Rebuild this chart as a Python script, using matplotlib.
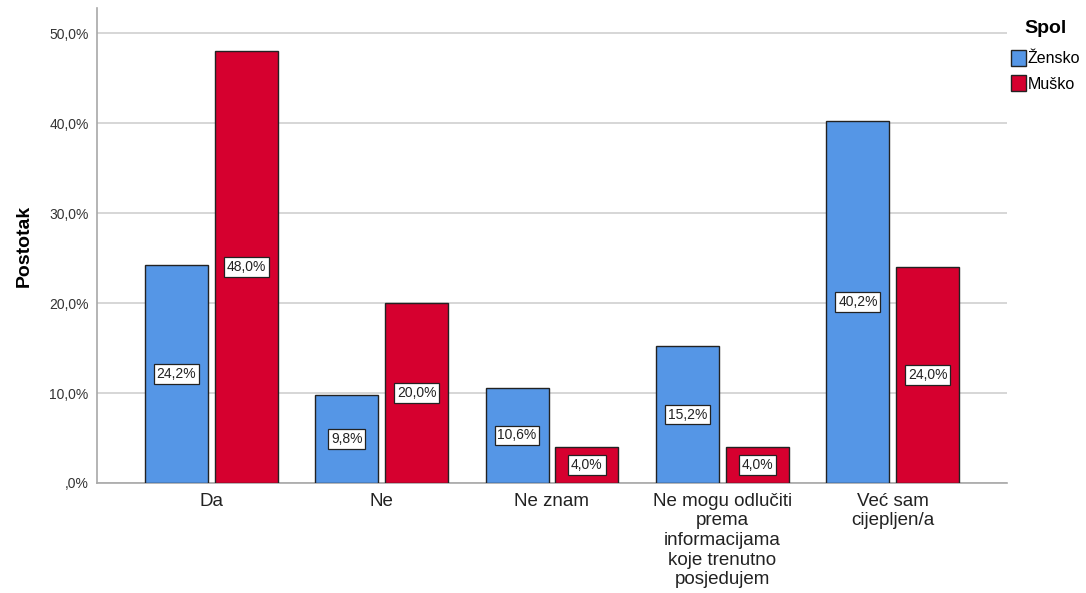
import matplotlib
matplotlib.use("Agg")
import matplotlib.pyplot as plt
import numpy as np
from matplotlib.patches import Patch

categories = ["Da", "Ne", "Ne znam",
              "Ne mogu odlučiti\nprema\ninformacijama\nkoje trenutno\nposjedujem",
              "Već sam\ncijepljen/a"]
zensko = [24.2, 9.8, 10.6, 15.2, 40.2]
musko = [48.0, 20.0, 4.0, 4.0, 24.0]
series_names = ["Žensko", "Muško"]
yticks = [0, 10, 20, 30, 40, 50]
ytick_labels = [",0%", "10,0%", "20,0%", "30,0%", "40,0%", "50,0%"]

plt.rcParams['font.family'] = ['Liberation Sans', 'DejaVu Sans']

fig = plt.figure(figsize=(10.86, 5.93), dpi=100)
ax = fig.add_axes([97/1086, 1-483/593, (1007-97)/1086, (483-8)/593])

x = np.arange(len(categories))
w = 0.37
off = 0.205
blue = "#5596E6"
red = "#D6002F"

for vals, dx, col in [(zensko, -off, blue), (musko, off, red)]:
    ax.bar(x + dx, vals, width=w, color=col, edgecolor="#222222", linewidth=1.0, zorder=3)
    for xi, v in zip(x + dx, vals):
        lab = f"{v:.1f}%".replace(".", ",")
        ax.text(xi, v/2, lab, ha="center", va="center", fontsize=10, color="#222222", zorder=5,
                bbox=dict(boxstyle="square,pad=0.2", facecolor="white", edgecolor="#222222", linewidth=0.9))

ax.set_xlim(-0.67, 4.67)
ax.set_ylim(0, 52.8)
ax.set_yticks(yticks)
ax.set_yticklabels(ytick_labels, fontsize=10, color="#333333")
ax.set_xticks(x)
ax.set_xticklabels(categories, fontsize=13.5, color="#222222", linespacing=1.2, va="top")
ax.tick_params(axis="x", length=0, pad=7)
ax.tick_params(axis="y", length=0, pad=6)
ax.grid(axis="y", color="#D0D0D0", linewidth=1.2, zorder=0)
for s in ["top", "right"]:
    ax.spines[s].set_visible(False)
ax.spines["left"].set_color("#A8A8A8")
ax.spines["bottom"].set_color("#A8A8A8")
ax.spines["left"].set_linewidth(1.2)
ax.spines["bottom"].set_linewidth(1.2)
ax.set_ylabel("Postotak", fontsize=14, fontweight="bold", labelpad=12)

handles = [Patch(facecolor=blue, edgecolor="#222222"), Patch(facecolor=red, edgecolor="#222222")]
leg = fig.legend(handles, series_names, loc="upper left", bbox_to_anchor=(1008/1086, 1-17/593),
                 frameon=False, fontsize=11.5, title="Spol", title_fontproperties={"weight": "bold", "size": 14},
                 handlelength=0.95, handleheight=1.2, handletextpad=0.1, labelspacing=0.55,
                 borderpad=0.2, borderaxespad=0)
leg._legend_box.align = "center"
leg._legend_box.sep = 9

fig.savefig("out.png", dpi=100)
